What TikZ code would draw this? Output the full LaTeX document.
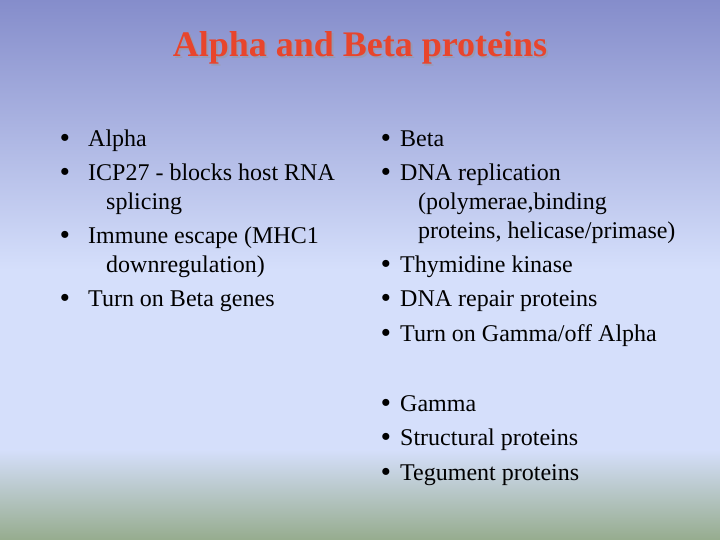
\documentclass[tikz,border=0pt]{standalone}
\usepackage{fontspec}
\setmainfont{Liberation Serif}
\begin{document}
\begin{tikzpicture}[x=1pt,y=1pt,
  txt/.style={anchor=base west,inner sep=0pt,font=\fontsize{24}{28}\selectfont},
  bul/.style={anchor=base,inner sep=0pt,font=\fontsize{26}{28}\selectfont\bfseries}]
\definecolor{ctop}{HTML}{858DCB}
\definecolor{cmid}{HTML}{D5DFFB}
\definecolor{cbot}{HTML}{96AC8E}
\definecolor{tred}{HTML}{E8452C}
\useasboundingbox (0,0) rectangle (720,540);
\shade[top color=ctop,bottom color=cmid] (0,270) rectangle (720,540);
\fill[cmid] (0,90) rectangle (720,270.5);
\shade[top color=cmid,bottom color=cbot] (0,0) rectangle (720,90.5);
\node[anchor=base,inner sep=0pt,font=\fontsize{36}{40}\selectfont\bfseries,text=black!40,opacity=0.5] (tsh) at (362,481) {Alpha and Beta proteins};
\node[anchor=base,inner sep=0pt,font=\fontsize{36}{40}\selectfont\bfseries,text=tred] (title) at (360,483) {Alpha and Beta proteins};
% left column
\foreach \n/\y/\t in {l1/393/Alpha, l2/359/ICP27 - blocks host RNA, l4/296/Immune escape (MHC1, l6/233/Turn on Beta genes}
  {\node[bul] (b\n) at (65,\y) {•}; \node[txt] (\n) at (88,\y) {\t};}
\node[txt] (l3) at (106,330) {splicing};
\node[txt] (l5) at (106,267) {downregulation)};
% right column
\foreach \n/\y/\t in {r1/393/Beta, r2/359/DNA replication, r5/267/Thymidine kinase, r6/233/DNA repair proteins, r7/198/{Turn on Gamma/off Alpha}, r8/128/Gamma, r9/94/Structural proteins, r10/59/Tegument proteins}
  {\node[bul] (b\n) at (386,\y) {•}; \node[txt] (\n) at (400,\y) {\t};}
\node[txt] (r3) at (418,330) {(polymerae,binding};
\node[txt] (r4) at (418,301) {proteins, helicase/primase)};
\end{tikzpicture}
\end{document}
